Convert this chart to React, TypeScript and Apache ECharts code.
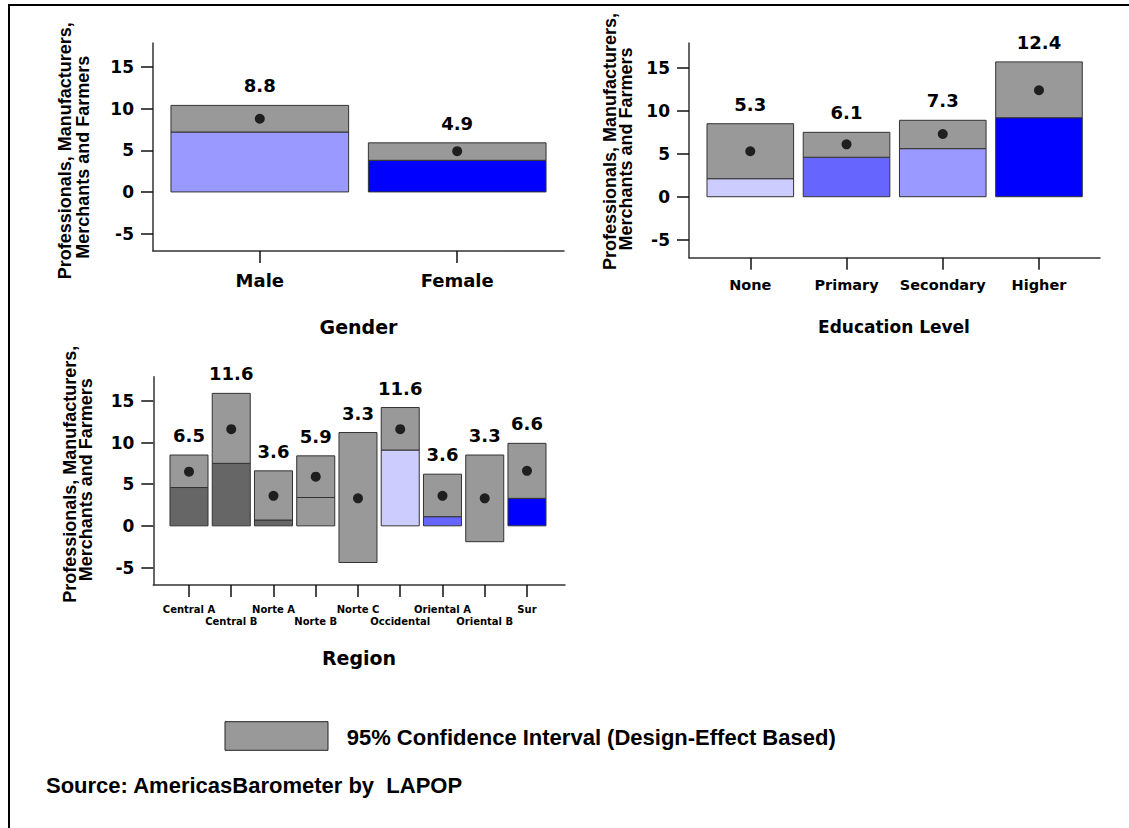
import React, { useEffect, useRef } from 'react';
import * as echarts from 'echarts';

// ---------- data ----------
const genderCats = ['Male', 'Female'];
const genderMeans = [8.8, 4.9];
const genderLower = [7.2, 3.8];
const genderUpper = [10.4, 5.9];
const genderColors = ['#9999ff', '#0000ff'];

const eduCats = ['None', 'Primary', 'Secondary', 'Higher'];
const eduMeans = [5.3, 6.1, 7.3, 12.4];
const eduLower = [2.1, 4.6, 5.6, 9.2];
const eduUpper = [8.5, 7.5, 8.9, 15.7];
const eduColors = ['#ccccff', '#6666ff', '#9999ff', '#0000ff'];

const regionCats = ['Central A', 'Central B', 'Norte A', 'Norte B', 'Norte C', 'Occidental', 'Oriental A', 'Oriental B', 'Sur'];
const regionMeans = [6.5, 11.6, 3.6, 5.9, 3.3, 11.6, 3.6, 3.3, 6.6];
const regionLower = [4.6, 7.5, 0.7, 3.4, -4.4, 9.1, 1.1, -1.9, 3.3];
const regionUpper = [8.5, 15.9, 6.6, 8.4, 11.2, 14.2, 6.2, 8.5, 9.9];
const regionColors = ['#666666', '#666666', '#666666', '#999999', '#999999', '#ccccff', '#6666ff', '#999999', '#0000ff'];

const yTicks = [-5, 0, 5, 10, 15];
const yMin = -7.1;
const yMax = 17.9;

const yName1 = 'Professionals, Manufacturers,';
const yName2 = 'Merchants and Farmers';
const legendText = '95% Confidence Interval (Design-Effect Based)';
const sourceText = 'Source: AmericasBarometer by  LAPOP';

const CI_GREY = '#999999';
const EDGE = '#333333';
const DV = 'DejaVu Sans';
const LS = 'Liberation Sans';

interface Panel {
  cats: string[];
  means: number[];
  lower: number[];
  upper: number[];
  colors: string[];
  grid: { left: number; top: number; width: number; height: number };
  xMin: number;
  xMax: number;
  catFont: number;
  catMargin: number;
  stagger: boolean;
  title: string;
  titleFont: number;
  titleX: number;
  titleY: number;
  y1: [number, number];
  y2: [number, number];
}

const panels: Panel[] = [
  {
    cats: genderCats, means: genderMeans, lower: genderLower, upper: genderUpper, colors: genderColors,
    grid: { left: 153, top: 43, width: 411, height: 208 },
    xMin: 0.459, xMax: 2.541, catFont: 18, catMargin: 20, stagger: false,
    title: 'Gender', titleFont: 19, titleX: 358.5, titleY: 327,
    y1: [64.6, 150.8], y2: [83, 157.2],
  },
  {
    cats: eduCats, means: eduMeans, lower: eduLower, upper: eduUpper, colors: eduColors,
    grid: { left: 689, top: 43, width: 411, height: 214.7 },
    xMin: 0.363, xMax: 4.634, catFont: 14.5, catMargin: 20, stagger: false,
    title: 'Education Level', titleFont: 17, titleX: 894, titleY: 326.5,
    y1: [609.6, 141.5], y2: [626.4, 149],
  },
  {
    cats: regionCats, means: regionMeans, lower: regionLower, upper: regionUpper, colors: regionColors,
    grid: { left: 153.3, top: 376.7, width: 411.7, height: 208.3 },
    xMin: 0.155, xMax: 9.9, catFont: 10, catMargin: 19, stagger: true,
    title: 'Region', titleFont: 19, titleX: 359, titleY: 658,
    y1: [69.6, 474.2], y2: [86.4, 479.7],
  },
];

function buildOption() {
  const grids: any[] = [];
  const xAxes: any[] = [];
  const yAxes: any[] = [];
  const series: any[] = [];
  const graphics: any[] = [];

  graphics.push({
    type: 'line', silent: true,
    shape: { x1: 8, y1: 5, x2: 1140, y2: 5 },
    style: { stroke: '#000', lineWidth: 2 },
  });
  graphics.push({
    type: 'line', silent: true,
    shape: { x1: 9, y1: 4, x2: 9, y2: 840 },
    style: { stroke: '#000', lineWidth: 2 },
  });

  panels.forEach((p, gi) => {
    grids.push({ ...p.grid, containLabel: false });
    const positions = p.cats.map((_, i) => i + 1);
    const firstRow = p.stagger ? positions.filter((v) => v % 2 === 1) : positions;
    const secondRow = p.stagger ? positions.filter((v) => v % 2 === 0) : [];
    const labelBase = {
      showMinLabel: true, showMaxLabel: true, hideOverlap: false,
      fontFamily: DV, fontWeight: 'bold', fontSize: p.catFont, color: '#000',
      formatter: (v: number) => p.cats[Math.round(v) - 1] ?? '',
    };
    const xIndex = xAxes.length;
    xAxes.push({
      type: 'value', gridIndex: gi, min: p.xMin, max: p.xMax, position: 'bottom',
      splitLine: { show: false },
      axisLine: { show: true, onZero: false, lineStyle: { color: EDGE, width: 1.5 } },
      axisTick: { show: true, customValues: positions, length: 12, lineStyle: { color: '#111', width: 1.5 } },
      axisLabel: { ...labelBase, show: true, customValues: firstRow, margin: p.catMargin },
    });
    if (p.stagger) {
      xAxes.push({
        type: 'value', gridIndex: gi, min: p.xMin, max: p.xMax, position: 'bottom', offset: 0,
        splitLine: { show: false },
        axisLine: { show: false, onZero: false },
        axisTick: { show: false },
        axisLabel: { ...labelBase, show: true, customValues: secondRow, margin: p.catMargin + 12 },
      });
    }
    yAxes.push({
      type: 'value', gridIndex: gi, min: yMin, max: yMax,
      splitLine: { show: false },
      axisLine: { show: true, onZero: false, lineStyle: { color: EDGE, width: 1.5 } },
      axisTick: { show: true, customValues: yTicks, length: 12, lineStyle: { color: '#111', width: 1.5 } },
      axisLabel: {
        show: true, customValues: yTicks, margin: 19,
        showMinLabel: true, showMaxLabel: true, hideOverlap: false,
        fontFamily: DV, fontWeight: 'bold', fontSize: 17, color: '#000',
      },
    });

    series.push({
      type: 'custom', xAxisIndex: xIndex, yAxisIndex: gi,
      data: p.cats.map((_, i) => [i + 1, p.lower[i], p.upper[i], p.means[i]]),
      encode: { x: 0, y: [1, 2] },
      renderItem: (params: any, api: any) => {
        const x = api.value(0);
        const lo = api.value(1);
        const hi = api.value(2);
        const mean = api.value(3);
        const w = api.size([0.9, 0])[0];
        const pTop = api.coord([x, hi]);
        const pLo = api.coord([x, lo]);
        const p0 = api.coord([x, 0]);
        const left = p0[0] - w / 2;
        const children: any[] = [];
        if (lo > 0) {
          children.push({
            type: 'rect',
            shape: { x: left, y: pLo[1], width: w, height: p0[1] - pLo[1] },
            style: { fill: p.colors[params.dataIndex], stroke: EDGE, lineWidth: 1 },
          });
        }
        children.push({
          type: 'rect',
          shape: { x: left, y: pTop[1], width: w, height: pLo[1] - pTop[1] },
          style: { fill: CI_GREY, stroke: EDGE, lineWidth: 1 },
        });
        children.push({
          type: 'text',
          style: {
            text: Number(mean).toFixed(1), x: p0[0], y: pTop[1] - 19.5,
            align: 'center', verticalAlign: 'middle',
            fontFamily: DV, fontWeight: 'bold', fontSize: 18, fill: '#000',
          },
        });
        return { type: 'group', children };
      },
      z: 2,
    });

    series.push({
      type: 'scatter', xAxisIndex: xIndex, yAxisIndex: gi,
      data: p.cats.map((_, i) => [i + 1, p.means[i]]),
      symbol: 'circle', symbolSize: 10,
      itemStyle: { color: '#000' },
      z: 5,
    });

    graphics.push({
      type: 'text', x: p.titleX, y: p.titleY,
      style: {
        text: p.title, align: 'center', verticalAlign: 'middle',
        fontFamily: DV, fontWeight: 'bold', fontSize: p.titleFont, fill: '#000',
      },
    });
    graphics.push({
      type: 'text', x: p.y1[0], y: p.y1[1], rotation: Math.PI / 2,
      style: {
        text: yName1, align: 'center', verticalAlign: 'middle',
        fontFamily: LS, fontWeight: 'bold', fontSize: 18, fill: '#000',
      },
    });
    graphics.push({
      type: 'text', x: p.y2[0], y: p.y2[1], rotation: Math.PI / 2,
      style: {
        text: yName2, align: 'center', verticalAlign: 'middle',
        fontFamily: LS, fontWeight: 'bold', fontSize: 18, fill: '#000',
      },
    });
  });

  graphics.push({
    type: 'rect', shape: { x: 225, y: 721.7, width: 103, height: 28.6 },
    style: { fill: CI_GREY, stroke: '#222', lineWidth: 1 },
  });
  graphics.push({
    type: 'text', x: 346.7, y: 737,
    style: {
      text: legendText, align: 'left', verticalAlign: 'middle',
      fontFamily: LS, fontWeight: 'bold', fontSize: 22, fill: '#000',
    },
  });
  graphics.push({
    type: 'text', x: 46, y: 785,
    style: {
      text: sourceText, align: 'left', verticalAlign: 'middle',
      fontFamily: LS, fontWeight: 'bold', fontSize: 22, fill: '#000',
    },
  });

  return {
    animation: false,
    backgroundColor: '#ffffff',
    grid: grids,
    xAxis: xAxes,
    yAxis: yAxes,
    series,
    graphic: { elements: graphics },
  };
}

export default function App() {
  const ref = useRef<HTMLDivElement>(null);
  useEffect(() => {
    document.body.style.margin = '0';
    document.body.style.overflow = 'hidden';
    if (!ref.current) return;
    const chart = echarts.init(ref.current, undefined, { renderer: 'svg' });
    chart.setOption(buildOption() as any);
    return () => chart.dispose();
  }, []);
  return (
    <div
      ref={ref}
      style={{ position: 'absolute', left: 0, top: 0, width: 1129, height: 828, background: '#fff' }}
    />
  );
}
